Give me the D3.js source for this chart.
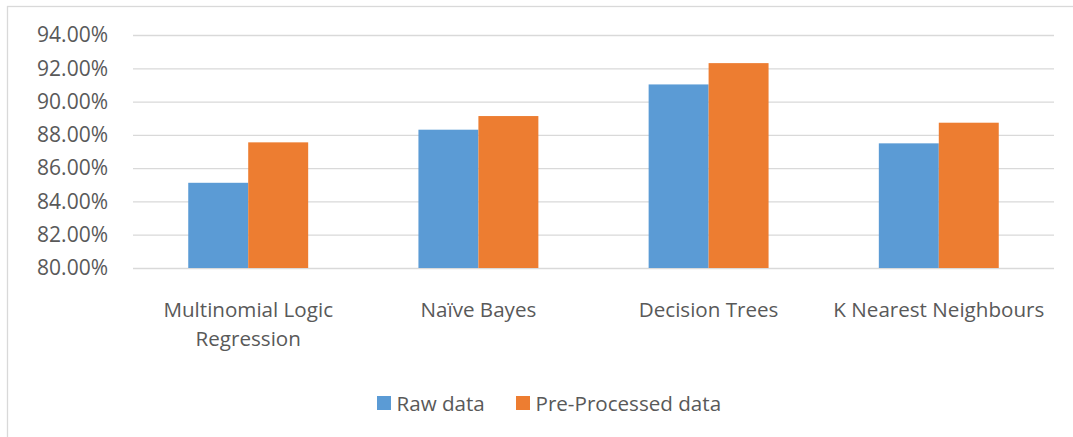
<!DOCTYPE html>
<html>
<head>
<meta charset="utf-8">
<script src="https://cdn.jsdelivr.net/npm/d3@7/dist/d3.min.js"></script>
<style>
  html, body { margin: 0; padding: 0; background: #fff; }
  svg { display: block; }
  text { font-family: "Open Sans", "Noto Sans", sans-serif; fill: #595959; }
</style>
</head>
<body>
<svg id="chart" width="1073" height="437"></svg>
<script>
// Classifier accuracy, raw vs pre-processed input
const categories = ["Multinomial Logic Regression", "Naïve Bayes", "Decision Trees", "K Nearest Neighbours"];
const seriesNames = ["Raw data", "Pre-Processed data"];
const rawValues = [85.12, 88.31, 91.03, 87.49];
const preProcessedValues = [87.55, 89.13, 92.31, 88.73];
const yTicks = [80, 82, 84, 86, 88, 90, 92, 94];
const colors = ["#5B9BD5", "#ED7D31"];

const svg = d3.select("#chart");
const W = 1073, H = 437;

// outer chart frame (clipped at right/bottom edges)
svg.append("rect")
  .attr("x", 7.5).attr("y", 6.5)
  .attr("width", W + 10).attr("height", H + 10)
  .attr("fill", "#fff").attr("stroke", "#d9d9d9").attr("stroke-width", 1.3);

const plot = { left: 133, right: 1054, top: 35, bottom: 268 };

const y = d3.scaleLinear().domain([80, 94]).range([plot.bottom, plot.top]);
const x0 = d3.scaleBand().domain(categories)
  .range([plot.left, plot.right])
  .paddingInner(0.479).paddingOuter(0.24);
const x1 = d3.scaleBand().domain(seriesNames).range([0, x0.bandwidth()]);

// gridlines
const yAxis = d3.axisLeft(y).tickValues(yTicks)
  .tickSize(-(plot.right - plot.left))
  .tickPadding(25)
  .tickFormat(d => d.toFixed(2) + "%");
const gy = svg.append("g").attr("transform", `translate(${plot.left},0)`).call(yAxis);
gy.select(".domain").remove();
gy.selectAll(".tick line").attr("stroke", "#d9d9d9").attr("stroke-width", 1.3);
gy.selectAll(".tick text")
  .attr("font-size", "21px")
  .style("fill", "#595959");

// bars
const rows = categories.map((c, i) => ({ cat: c, vals: [rawValues[i], preProcessedValues[i]] }));
const groups = svg.append("g").selectAll("g").data(rows).join("g")
  .attr("transform", d => `translate(${x0(d.cat)},0)`);
groups.selectAll("rect")
  .data(d => d.vals.map((v, j) => ({ name: seriesNames[j], v, j })))
  .join("rect")
  .attr("x", d => x1(d.name))
  .attr("width", x1.bandwidth())
  .attr("y", d => y(d.v))
  .attr("height", d => y(80) - y(d.v))
  .attr("fill", d => colors[d.j]);

// category labels, wrapped to the band step
const xAxis = d3.axisBottom(x0).tickSize(0).tickPadding(0);
const gx = svg.append("g").attr("transform", `translate(0,${plot.bottom})`).call(xAxis);
gx.select(".domain").remove();
gx.selectAll(".tick text").remove();
const maxW = x0.step() - 8;
gx.selectAll(".tick").each(function (d) {
  const t = d3.select(this).append("text")
    .attr("text-anchor", "middle")
    .attr("font-size", "20.6px")
    .attr("y", 48.5);
  const words = d.split(" ");
  let line = [];
  let tspan = t.append("tspan").attr("x", 0).attr("dy", 0);
  for (const w of words) {
    line.push(w);
    tspan.text(line.join(" "));
    if (tspan.node().getComputedTextLength() > maxW && line.length > 1) {
      line.pop();
      tspan.text(line.join(" "));
      line = [w];
      tspan = t.append("tspan").attr("x", 0).attr("dy", 29.5).text(w);
    }
  }
});

// legend
const legend = svg.append("g");
const legendX = [377, 516];
seriesNames.forEach((name, j) => {
  const g = legend.append("g").attr("transform", `translate(${legendX[j]},396)`);
  g.append("rect").attr("width", 14).attr("height", 14).attr("fill", colors[j]);
  g.append("text").attr("x", 19.5).attr("y", 14.5)
    .attr("font-size", "20.6px").text(name);
});
</script>
</body>
</html>
